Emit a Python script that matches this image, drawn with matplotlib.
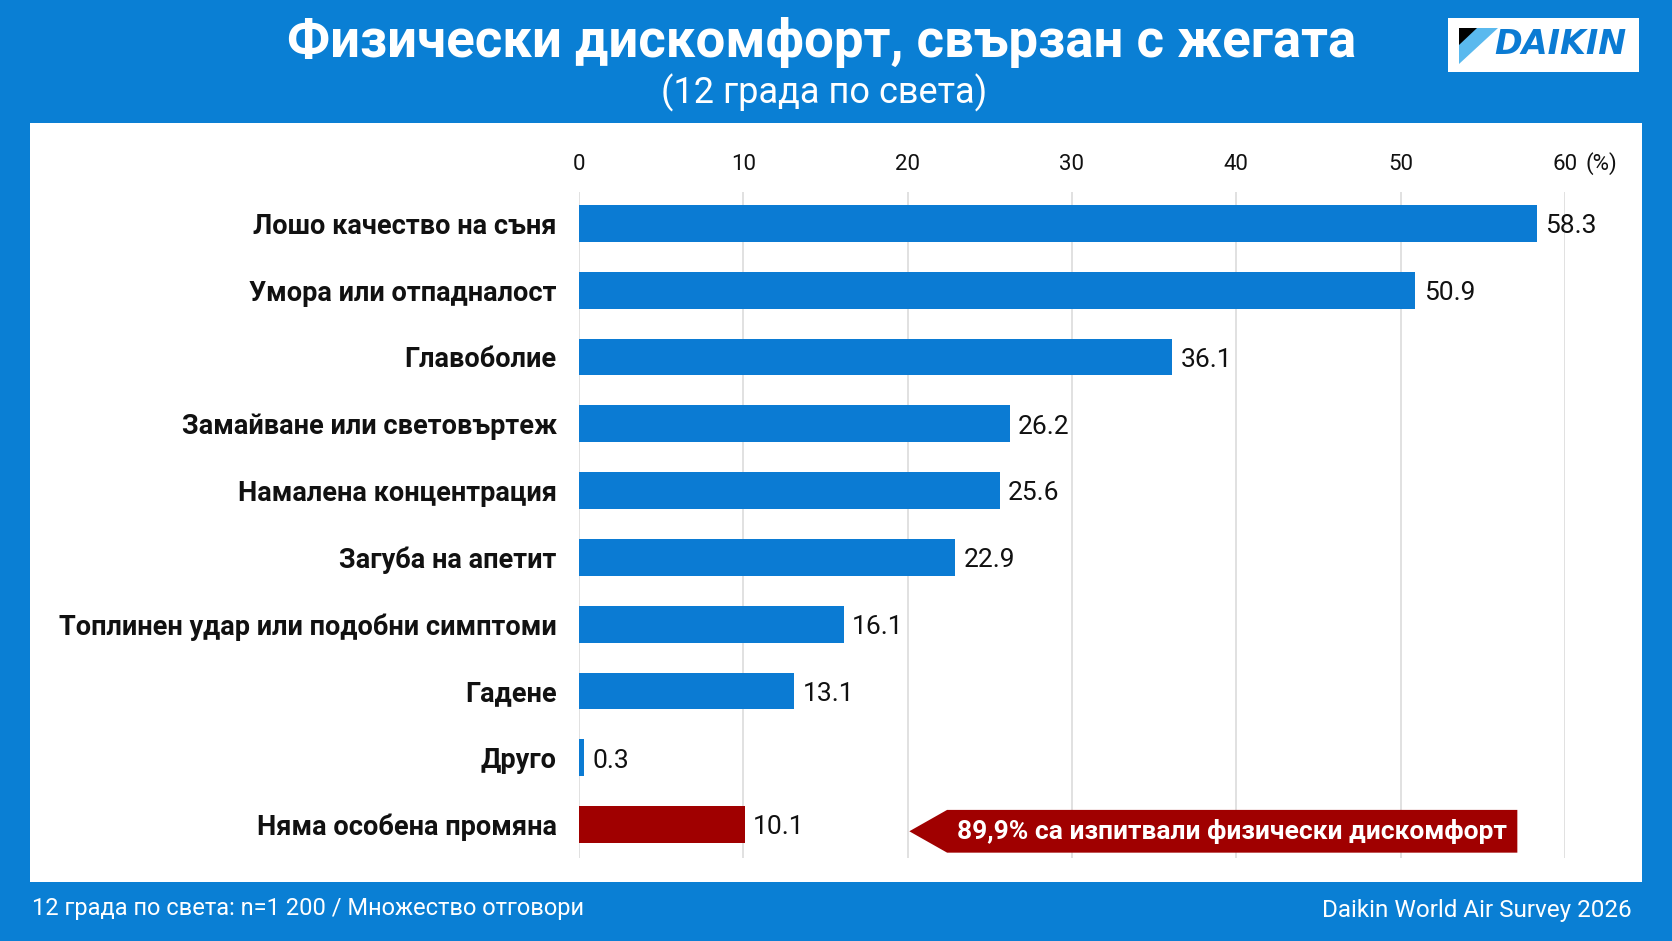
import matplotlib.pyplot as plt
import matplotlib.patches as mpatches
from matplotlib.transforms import blended_transform_factory

plt.rcParams['font.family'] = ['Roboto', 'DejaVu Sans']

# Data
categories = ['Лошо качество на съня', 'Умора или отпадналост', 'Главоболие',
              'Замайване или световъртеж', 'Намалена концентрация', 'Загуба на апетит',
              'Топлинен удар или подобни симптоми', 'Гадене', 'Друго', 'Няма особена промяна']
values = [58.3, 50.9, 36.1, 26.2, 25.6, 22.9, 16.1, 13.1, 0.3, 10.1]
ticks = [0, 10, 20, 30, 40, 50, 60]

title = 'Физически дискомфорт, свързан с жегата'
subtitle = '(12 града по света)'
note_left = '12 града по света: n=1 200 / Множество отговори'
note_right = 'Daikin World Air Survey 2026'
callout = '89,9% са изпитвали физически дискомфорт'

BG = '#0a7fd4'
BAR = '#0b7bd3'
RED = '#a00000'

W, H = 1672, 941
fig = plt.figure(figsize=(W / 100, H / 100), dpi=100, facecolor=BG)

# white panel
fig.patches.append(mpatches.Rectangle((30 / W, 1 - 882 / H), 1612 / W, 759 / H,
                                      transform=fig.transFigure, facecolor='white',
                                      edgecolor='none', zorder=0))

# titles
fig.text(822 / W, 1 - 43 / H, title, ha='center', va='center', color='white',
         fontsize=38, fontweight='bold')
fig.text(824 / W, 1 - 93 / H, subtitle, ha='center', va='center', color='white', fontsize=26)

# footer
fig.text(32 / W, 1 - 909 / H, note_left, ha='left', va='center', color='white', fontsize=17)
fig.text(1632 / W, 1 - 910 / H, note_right, ha='right', va='center', color='white', fontsize=17.5)

# logo
fig.patches.append(mpatches.Rectangle((1448 / W, 1 - 72 / H), 191 / W, 54 / H,
                                      transform=fig.transFigure, facecolor='white',
                                      edgecolor='none', zorder=1))
fig.patches.append(mpatches.Polygon([(1459 / W, 1 - 28 / H), (1498 / W, 1 - 28 / H),
                                     (1459 / W, 1 - 64 / H)], closed=True,
                                    transform=fig.transFigure, facecolor='#5ab9ee',
                                    edgecolor='none', zorder=2))
fig.patches.append(mpatches.Polygon([(1459 / W, 1 - 28 / H), (1477 / W, 1 - 28 / H),
                                     (1459 / W, 1 - 45 / H)], closed=True,
                                    transform=fig.transFigure, facecolor='black',
                                    edgecolor='none', zorder=3))
fig.text(1560 / W, 1 - 45 / H, 'DAIKIN', ha='center', va='center', color=BAR,
         fontsize=24, fontweight='bold', fontstyle='italic', family='DejaVu Sans', zorder=4)

# chart
ax = fig.add_axes([579 / W, 1 - 858 / H, 986 / W, 666 / H])
ax.set_zorder(5)
ax.set_facecolor('none')
y = list(range(len(categories)))
colors = [BAR] * (len(categories) - 1) + [RED]
ax.barh(y, values, height=0.55, color=colors, zorder=3)

ax.set_xlim(0, 60)
ax.set_ylim(len(categories) - 0.5, -0.47)
ax.set_xticks(ticks)
ax.xaxis.tick_top()
ax.set_xticklabels([str(t) for t in ticks], fontsize=16)
ax.tick_params(axis='x', length=0, pad=12, colors='#111111')
ax.set_yticks(y)
ax.set_yticklabels(categories, fontsize=19.5, fontweight='bold')
ax.tick_params(axis='y', length=0, pad=16, colors='#111111')
ax.grid(axis='x', color='#dcdcdc', linewidth=1.2, zorder=0)
for s in ax.spines.values():
    s.set_visible(False)

ax.annotate('(%)', xy=(60, 1), xycoords=blended_transform_factory(ax.transData, ax.transAxes),
            xytext=(15, 12), textcoords='offset points', ha='left', va='bottom',
            fontsize=16, color='#111111')

for yi, v in zip(y, values):
    ax.annotate(f'{v}', xy=(v, yi), xytext=(6, -2), textcoords='offset points',
                ha='left', va='center', fontsize=19, color='#111111')

# callout arrow on last row
cy = len(categories) - 1 + 0.1
tip_x, body_left, body_right = 20.1, 22.4, 57.1
half = 0.32
ax.add_patch(mpatches.Polygon([(tip_x, cy), (body_left, cy - half), (body_right, cy - half),
                               (body_right, cy + half), (body_left, cy + half)],
                              closed=True, facecolor=RED, edgecolor='none', zorder=4))
ax.text((body_left + body_right) / 2, cy, callout, ha='center', va='center',
        color='white', fontsize=19, fontweight='bold', zorder=5)

fig.savefig('out.png', dpi=100, facecolor=BG)
